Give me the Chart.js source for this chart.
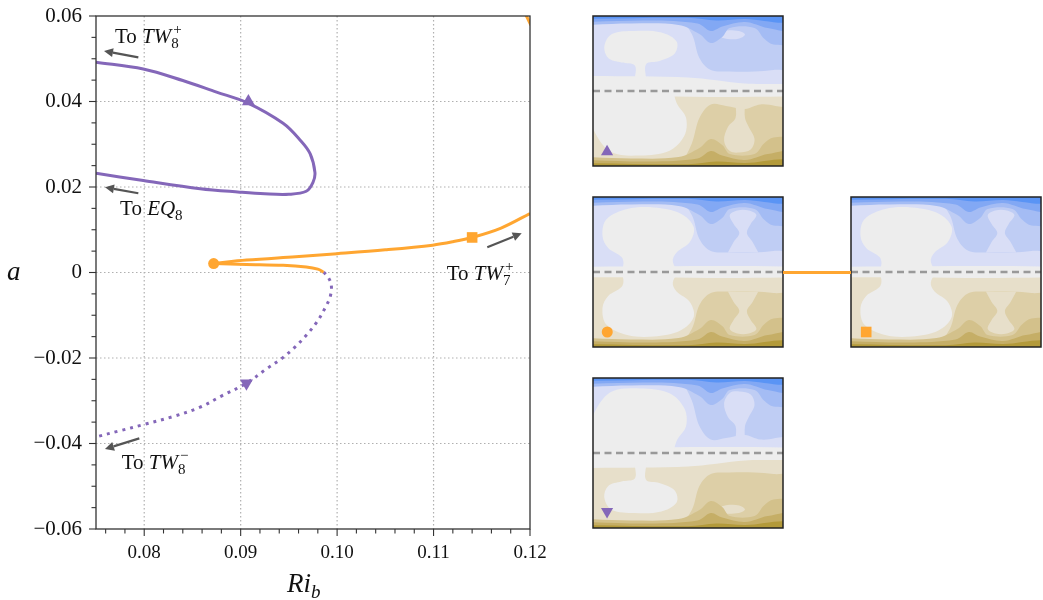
<!DOCTYPE html>
<html>
<head>
<meta charset="utf-8">
<title>Branches in Ri_b</title>
<script src="https://cdn.jsdelivr.net/npm/chart.js@4.4.1/dist/chart.umd.min.js"></script>
<style>
  html, body { margin: 0; padding: 0; background: #fff; }
  #wrap { position: relative; width: 1043px; height: 600px; overflow: hidden; }
  #wrap canvas { position: absolute; }
  #link { position: absolute; left: 783px; top: 270.5px; width: 68px; height: 3px; background: #ffa631; }
</style>
</head>
<body>
<div id="wrap">
  <canvas id="main" width="560" height="600" style="left:0;top:0"></canvas>
  <canvas id="p0" width="192" height="152" style="left:592px;top:15px"></canvas>
  <canvas id="p1" width="192" height="152" style="left:592px;top:196px"></canvas>
  <canvas id="p2" width="192" height="152" style="left:850px;top:196px"></canvas>
  <canvas id="p3" width="192" height="152" style="left:592px;top:377px"></canvas>
  <div id="link"></div>
</div>
<script>
// ---- branch data (Ri_b, a) ----
const RIB_TW8P = [0.0750, 0.0799, 0.0840, 0.0875, 0.0906, 0.0944, 0.0962, 0.0972, 0.0977, 0.0975, 0.0968, 0.0950, 0.0925, 0.0899, 0.0858, 0.0799, 0.0750];
const A_TW8P   = [0.0492, 0.0476, 0.0449, 0.0422, 0.0398, 0.0349, 0.0309, 0.0278, 0.0234, 0.0211, 0.0190, 0.0183, 0.0184, 0.0188, 0.0196, 0.0215, 0.0232];

const RIB_TW7 = [0.0872, 0.0906, 0.0957, 0.1000, 0.1050, 0.1099, 0.1120, 0.1140, 0.1170, 0.1200];
const A_TW7   = [0.0021, 0.0029, 0.0037, 0.0044, 0.0053, 0.0064, 0.0072, 0.0082, 0.0104, 0.0138];

const RIB_LOW = [0.0872, 0.0906, 0.0944, 0.0968, 0.0980, 0.0986];
const A_LOW   = [0.0021, 0.0019, 0.0017, 0.0013, 0.0008, 0.0001];

const RIB_TW8M = [0.0986, 0.0991, 0.0994, 0.0993, 0.0988, 0.0979, 0.0968, 0.0956, 0.0942, 0.0927, 0.0906, 0.0880, 0.0858, 0.0830, 0.0799, 0.0775, 0.0751];
const A_TW8M   = [0.0001, -0.0012, -0.0030, -0.0055, -0.0081, -0.0116, -0.0147, -0.0175, -0.0202, -0.0225, -0.0259, -0.0289, -0.0315, -0.0337, -0.0356, -0.0370, -0.0384];

const RIB_CORNER = [0.1195, 0.1201];
const A_CORNER   = [0.0606, 0.0578];

// solutions shown in the snapshots: up-triangle, down-triangle, circle, square
const MARK_RIB = [0.0908, 0.0906, 0.0872, 0.1140];
const MARK_A   = [0.0400, -0.0259, 0.0021, 0.0082];

const X_TICKS = [0.08, 0.09, 0.10, 0.11, 0.12];
const X_LABELS = ['0.08', '0.09', '0.10', '0.11', '0.12'];
const Y_TICKS = [-0.06, -0.04, -0.02, 0, 0.02, 0.04, 0.06];
const Y_LABELS = ['\u22120.06', '\u22120.04', '\u22120.02', '0', '0.02', '0.04', '0.06'];

// "To ..." notes: text anchor and arrow tail -> head, in data units
const NOTE_NAME = ['TW', 'EQ', 'TW', 'TW'];
const NOTE_SUB  = ['8', '8', '7', '8'];
const NOTE_SUP  = ['+', '', '+', '\u2212'];
const NOTE_X = [0.07697, 0.07749, 0.11136, 0.07766];
const NOTE_Y = [0.0537, 0.01345, -0.00175, -0.0460];
const ARROW_X0 = [0.07939, 0.07939, 0.11557, 0.07949];
const ARROW_Y0 = [0.05034, 0.01853, 0.00589, -0.03879];
const ARROW_X1 = [0.07583, 0.07593, 0.11914, 0.07593];
const ARROW_Y1 = [0.05181, 0.01993, 0.00917, -0.04129];

const PURPLE = '#8467b9';
const ORANGE = '#ffa631';
const SERIF = '"Liberation Serif", "DejaVu Serif", serif';

const xy = (xs, ys) => xs.map((x, i) => ({ x, y: ys[i] }));

function marker(i, style, color, r, rot) {
  return {
    data: [{ x: MARK_RIB[i], y: MARK_A[i] }], showLine: false,
    pointStyle: style, pointRadius: r, pointRotation: rot || 0,
    pointBackgroundColor: color, pointBorderWidth: 0
  };
}

function curve(xs, ys, color, dash) {
  return {
    data: xy(xs, ys), borderColor: color, borderWidth: 3, pointRadius: 0,
    tension: 0.35, fill: false, borderDash: dash || [], borderCapStyle: 'butt'
  };
}

function drawArrow(ctx, x0, y0, x1, y1) {
  const ang = Math.atan2(y1 - y0, x1 - x0);
  const len = 9, hw = 4.5;
  const bx = x1 - len * Math.cos(ang), by = y1 - len * Math.sin(ang);
  ctx.strokeStyle = '#555'; ctx.fillStyle = '#555'; ctx.lineWidth = 2.2;
  ctx.beginPath(); ctx.moveTo(x0, y0); ctx.lineTo(bx, by); ctx.stroke();
  ctx.beginPath();
  ctx.moveTo(x1, y1);
  ctx.lineTo(bx + hw * Math.sin(ang), by - hw * Math.cos(ang));
  ctx.lineTo(bx - hw * Math.sin(ang), by + hw * Math.cos(ang));
  ctx.closePath(); ctx.fill();
}

function drawNote(ctx, x, y, name, sub, sup) {
  ctx.fillStyle = '#111'; ctx.textBaseline = 'alphabetic'; ctx.textAlign = 'left';
  ctx.font = '21px ' + SERIF;
  ctx.fillText('To ', x, y);
  x += ctx.measureText('To ').width;
  ctx.font = 'italic 21px ' + SERIF;
  ctx.fillText(name, x, y);
  x += ctx.measureText(name).width;
  ctx.font = '15px ' + SERIF;
  ctx.fillText(sub, x, y + 5);
  ctx.fillText(sup, x + 2, y - 9);
}

const axesDecor = {
  id: 'axesDecor',
  beforeDatasetsDraw(chart) {
    const { ctx, chartArea: a, scales: { x, y } } = chart;
    ctx.save();
    ctx.strokeStyle = '#b0b0b0'; ctx.lineWidth = 1.2; ctx.setLineDash([1.5, 2.5]);
    X_TICKS.forEach(v => {
      const px = x.getPixelForValue(v);
      if (px < a.right - 2) { ctx.beginPath(); ctx.moveTo(px, a.top); ctx.lineTo(px, a.bottom); ctx.stroke(); }
    });
    Y_TICKS.forEach(v => {
      const py = y.getPixelForValue(v);
      if (py > a.top + 2 && py < a.bottom - 2) { ctx.beginPath(); ctx.moveTo(a.left, py); ctx.lineTo(a.right, py); ctx.stroke(); }
    });
    ctx.restore();
  },
  afterDatasetsDraw(chart) {
    const { ctx, chartArea: a, scales: { x, y } } = chart;
    ctx.save();
    // frame
    ctx.strokeStyle = '#333'; ctx.lineWidth = 1.3;
    ctx.strokeRect(a.left, a.top, a.right - a.left, a.bottom - a.top);
    // ticks, pointing outwards
    ctx.strokeStyle = '#333'; ctx.lineWidth = 1.1;
    for (let k = 0; k <= 22; k++) {
      const v = 0.076 + k * 0.002;
      const major = X_TICKS.some(t => Math.abs(t - v) < 1e-6);
      const px = x.getPixelForValue(v);
      ctx.beginPath(); ctx.moveTo(px, a.bottom); ctx.lineTo(px, a.bottom + (major ? 7 : 4.5)); ctx.stroke();
    }
    for (let k = 0; k <= 24; k++) {
      const v = -0.06 + k * 0.005;
      const major = Y_TICKS.some(t => Math.abs(t - v) < 1e-6);
      const py = y.getPixelForValue(v);
      ctx.beginPath(); ctx.moveTo(a.left, py); ctx.lineTo(a.left - (major ? 7 : 4.5), py); ctx.stroke();
    }
    // notes with arrows
    for (let i = 0; i < NOTE_NAME.length; i++) {
      drawArrow(ctx, x.getPixelForValue(ARROW_X0[i]), y.getPixelForValue(ARROW_Y0[i]),
                     x.getPixelForValue(ARROW_X1[i]), y.getPixelForValue(ARROW_Y1[i]));
      drawNote(ctx, x.getPixelForValue(NOTE_X[i]), y.getPixelForValue(NOTE_Y[i]), NOTE_NAME[i], NOTE_SUB[i], NOTE_SUP[i]);
    }
    // axis titles
    ctx.fillStyle = '#111'; ctx.textAlign = 'left'; ctx.textBaseline = 'alphabetic';
    ctx.font = 'italic 27px ' + SERIF;
    ctx.fillText('a', 7, 280);
    ctx.fillText('Ri', 287, 592);
    const w = ctx.measureText('Ri').width;
    ctx.font = 'italic 19px ' + SERIF;
    ctx.fillText('b', 287 + w, 598);
    ctx.restore();
  }
};

new Chart(document.getElementById('main'), {
  type: 'line',
  data: {
    datasets: [
      marker(0, 'triangle', PURPLE, 7.5),
      marker(1, 'triangle', PURPLE, 7.5, 180),
      marker(2, 'circle', ORANGE, 5.5),
      marker(3, 'rect', ORANGE, 7.5),
      curve(RIB_TW8P, A_TW8P, PURPLE),
      curve(RIB_TW7, A_TW7, ORANGE),
      curve(RIB_LOW, A_LOW, ORANGE),
      curve(RIB_TW8M, A_TW8M, PURPLE, [3, 5]),
      curve(RIB_CORNER, A_CORNER, ORANGE)
    ]
  },
  options: {
    responsive: false, animation: false, events: [],
    layout: { autoPadding: false, padding: { top: 16, right: 30, left: 0, bottom: 0 } },
    plugins: { legend: { display: false }, tooltip: { enabled: false } },
    scales: {
      x: {
        type: 'linear', min: 0.075, max: 0.12,
        grid: { display: false, drawTicks: false }, border: { display: false },
        afterBuildTicks: s => { s.ticks = X_TICKS.map(v => ({ value: v })); },
        afterFit: s => { s.height = 71; s.paddingLeft = 0; s.paddingRight = 0; },
        ticks: { font: { family: SERIF, size: 19 }, color: '#111', padding: 13, maxRotation: 0, autoSkip: false,
                 callback: (v, i) => X_LABELS[i] }
      },
      y: {
        type: 'linear', min: -0.06, max: 0.06,
        grid: { display: false, drawTicks: false }, border: { display: false },
        afterBuildTicks: s => { s.ticks = Y_TICKS.map(v => ({ value: v })); },
        afterFit: s => { s.width = 96; s.paddingTop = 0; s.paddingBottom = 0; },
        ticks: { font: { family: SERIF, size: 21 }, color: '#111', padding: 14, autoSkip: false,
                 callback: (v, i) => Y_LABELS[i] }
      }
    }
  },
  plugins: [axesDecor]
});

// ---- snapshot fields: one half described with v = distance from the wall (0) to the mid-plane (0.5) ----
const BLUES = ['#5a94f5', '#82a8f4', '#a4bcf4', '#bfcdf4', '#d9def6'];
const TANS  = ['#b39a3a', '#c5ae66', '#d3c18b', '#ddcfa7', '#e7dfca'];
const PALE  = '#ededed';

const FINGERS_MID  = [[0.42, -0.05], [0.52, 0.12], [0.56, 0.28], [0.62, 0.36], [0.72, 0.37], [0.85, 0.37], [0.95, 0.36], [1.05, 0.34], [1.05, -0.05]];
const FINGERS_DEEP = [[0.44, -0.05], [0.52, 0.15], [0.56, 0.32], [0.62, 0.41], [0.70, 0.40], [0.80, 0.38], [0.88, 0.41], [0.96, 0.40], [1.05, 0.36], [1.05, -0.05]];
const HOURGLASS = [[0.71, 0.37], [0.74, 0.30], [0.77, 0.24], [0.74, 0.18], [0.72, 0.12], [0.76, 0.09], [0.82, 0.09], [0.86, 0.12], [0.83, 0.18], [0.81, 0.24], [0.84, 0.30], [0.87, 0.37]];
const EYE       = [[0.66, 0.125], [0.69, 0.10], [0.73, 0.095], [0.78, 0.105], [0.80, 0.125], [0.77, 0.15], [0.72, 0.155], [0.68, 0.145]];
const BULB_OPEN = [[0.75, 0.42], [0.75, 0.32], [0.71, 0.26], [0.69, 0.17], [0.72, 0.10], [0.77, 0.09], [0.83, 0.11], [0.85, 0.18], [0.82, 0.26], [0.80, 0.32], [0.80, 0.42]];
const BLOB_BULB  = [[0.14, 0.52], [0.16, 0.45], [0.15, 0.40], [0.08, 0.34], [0.05, 0.26], [0.07, 0.15], [0.18, 0.08], [0.32, 0.07], [0.46, 0.11], [0.53, 0.20], [0.51, 0.30], [0.44, 0.37], [0.42, 0.43], [0.46, 0.52]];
const BLOB_MUSH  = [[0.21, 0.52], [0.22, 0.42], [0.22, 0.33], [0.15, 0.31], [0.08, 0.28], [0.06, 0.20], [0.10, 0.12], [0.22, 0.10], [0.36, 0.11], [0.44, 0.17], [0.43, 0.25], [0.35, 0.30], [0.28, 0.32], [0.28, 0.42], [0.29, 0.52]];
const BLOB_ROUND = [[0.00, 0.52], [-0.02, 0.35], [0.02, 0.20], [0.10, 0.09], [0.25, 0.07], [0.40, 0.10], [0.48, 0.20], [0.49, 0.32], [0.44, 0.42], [0.42, 0.52]];
const EDGE_2 = [[-0.05, 0.06], [0.2, 0.05], [0.45, 0.06], [0.56, 0.12], [0.62, 0.18], [0.68, 0.14], [0.72, 0.08], [0.85, 0.08], [0.9, 0.15], [0.95, 0.19], [1.05, 0.17]];
const EDGE_1 = [[-0.05, 0.04], [0.3, 0.03], [0.55, 0.05], [0.62, 0.10], [0.68, 0.07], [0.8, 0.04], [0.92, 0.08], [1.05, 0.09]];
const EDGE_0 = [[-0.05, 0.02], [0.5, 0.012], [0.65, 0.03], [0.8, 0.02], [1.05, 0.035]];
const BAND_THIN  = [[-0.05, 0.465], [1.05, 0.465]];
const BAND_THICK = [[-0.05, 0.40], [0.5, 0.41], [0.8, 0.45], [1.05, 0.46]];

const HALF_BULB  = { fingers: FINGERS_MID,  pale: HOURGLASS, band: BAND_THIN,  blob: BLOB_BULB };
const HALF_MUSH  = { fingers: FINGERS_MID,  pale: EYE,       band: BAND_THICK, blob: BLOB_MUSH };
const HALF_ROUND = { fingers: FINGERS_DEEP, pale: BULB_OPEN, band: BAND_THIN,  blob: BLOB_ROUND };

function shape(pts, color, upper, tension) {
  return {
    data: pts.map(p => ({ x: p[0], y: upper ? 1 - p[1] : p[1] })),
    fill: 'shape', backgroundColor: color, borderWidth: 0, borderColor: 'rgba(0,0,0,0)',
    pointRadius: 0, tension: tension
  };
}

function halfLayers(half, pal, upper) {
  const toWall = [[1.05, -0.1], [-0.05, -0.1]];
  return [
    shape([[-0.05, -0.1], [1.05, -0.1], [1.05, 0.5], [-0.05, 0.5]], pal[4], upper, 0),
    shape(half.fingers, pal[3], upper, 0.35),
    shape(half.pale, pal[4], upper, 0.35),
    shape(EDGE_2.concat(toWall), pal[2], upper, 0.35),
    shape(EDGE_1.concat(toWall), pal[1], upper, 0.35),
    shape(EDGE_0.concat(toWall), pal[0], upper, 0.35),
    shape(half.band.concat([[1.05, 0.5], [-0.05, 0.5]]), PALE, upper, 0.3),
    shape(half.blob, PALE, upper, 0.35)
  ];
}

const panelFrame = {
  id: 'panelFrame',
  afterDraw(chart) {
    const { ctx, chartArea: a } = chart;
    ctx.save();
    ctx.strokeStyle = '#222'; ctx.lineWidth = 1.5;
    ctx.strokeRect(a.left, a.top, a.right - a.left, a.bottom - a.top);
    ctx.restore();
  }
};

function panel(id, upperHalf, lowerHalf, mark) {
  const layers = halfLayers(upperHalf, BLUES, true).concat(halfLayers(lowerHalf, TANS, false));
  layers.push({
    data: [{ x: 0, y: 0.5 }, { x: 1, y: 0.5 }], borderColor: '#999', borderWidth: 2.5,
    borderDash: [7, 4.5], pointRadius: 0, fill: false
  });
  layers.push({
    data: [{ x: mark.x, y: mark.y }], showLine: false, pointStyle: mark.style,
    pointRadius: mark.r, pointRotation: mark.rot || 0, pointBackgroundColor: mark.color, pointBorderWidth: 0
  });
  // first dataset is painted last, so hand them over top layer first
  new Chart(document.getElementById(id), {
    type: 'line',
    data: { datasets: layers.reverse() },
    options: {
      responsive: false, animation: false, events: [],
      layout: { autoPadding: false, padding: 1 },
      plugins: { legend: { display: false }, tooltip: { enabled: false } },
      scales: {
        x: { type: 'linear', min: 0, max: 1, display: false },
        y: { type: 'linear', min: 0, max: 1, display: false }
      }
    },
    plugins: [panelFrame]
  });
}

panel('p0', HALF_MUSH, HALF_ROUND, { x: 0.074, y: 0.095, style: 'triangle', r: 7, color: PURPLE });
panel('p1', HALF_BULB, HALF_BULB, { x: 0.075, y: 0.10, style: 'circle', r: 5.5, color: ORANGE });
panel('p2', HALF_BULB, HALF_BULB, { x: 0.08, y: 0.10, style: 'rect', r: 7.5, color: ORANGE });
panel('p3', HALF_ROUND, HALF_MUSH, { x: 0.074, y: 0.11, style: 'triangle', r: 7, color: PURPLE, rot: 180 });
</script>
</body>
</html>
